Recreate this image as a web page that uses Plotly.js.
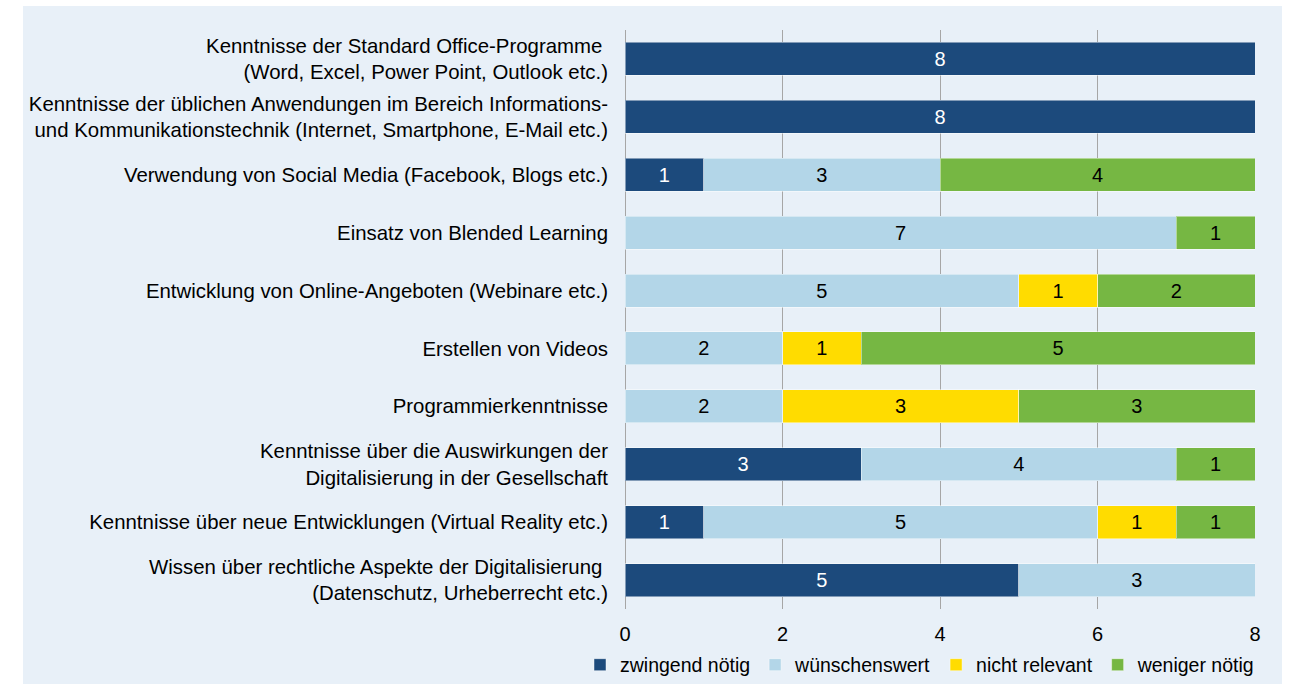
<!DOCTYPE html>
<html>
<head>
<meta charset="utf-8">
<script src="https://cdn.plot.ly/plotly-3.0.1.min.js"></script>
<style>
  body { margin: 0; background: #ffffff; overflow: hidden; }
  #bg { position: absolute; left: 23px; top: 6px; width: 1259px; height: 678px; background: #e8f0f8; }
  #chart { position: absolute; left: 0; top: 0; width: 1295px; height: 700px; }
</style>
</head>
<body>
<div id="bg"></div>
<div id="chart"></div>
<script>
var categories = [
  'Kenntnisse der Standard Office-Programme\u00a0<br>(Word, Excel, Power Point, Outlook etc.)',
  'Kenntnisse der üblichen Anwendungen im Bereich Informations-<br>und Kommunikationstechnik (Internet, Smartphone, E-Mail etc.)',
  'Verwendung von Social Media (Facebook, Blogs etc.)',
  'Einsatz von Blended Learning',
  'Entwicklung von Online-Angeboten (Webinare etc.)',
  'Erstellen von Videos',
  'Programmierkenntnisse',
  'Kenntnisse über die Auswirkungen der<br>Digitalisierung in der Gesellschaft',
  'Kenntnisse über neue Entwicklungen (Virtual Reality etc.)',
  'Wissen über rechtliche Aspekte der Digitalisierung\u00a0<br>(Datenschutz, Urheberrecht etc.)'
];

var zwingend     = [8, 8, 1, 0, 0, 0, 0, 3, 1, 5];
var wuenschens   = [0, 0, 3, 7, 5, 2, 2, 4, 5, 3];
var nichtRelev   = [0, 0, 0, 0, 1, 1, 3, 0, 1, 0];
var weniger      = [0, 0, 4, 1, 2, 5, 3, 1, 1, 0];

var seriesNames  = ['zwingend nötig', 'wünschenswert', 'nicht relevant', 'weniger nötig'];
var seriesColors = ['#1c4a7c', '#b3d6e8', '#ffdc00', '#76b743'];
var textColors   = ['#ffffff', '#000000', '#000000', '#000000'];

var fontFam = 'Arial, "Liberation Sans", sans-serif';
var fs = 19.5;

function mk(vals, i) {
  return {
    type: 'bar',
    orientation: 'h',
    name: seriesNames[i],
    y: categories,
    x: vals.map(function (v) { return v ? v : null; }),
    text: vals.map(function (v) { return v ? String(v) : ''; }),
    textposition: 'inside',
    insidetextanchor: 'middle',
    textfont: { family: fontFam, size: 20, color: textColors[i] },
    marker: { color: seriesColors[i], line: { color: 'rgba(255,255,255,0.45)', width: 1 } },
    hoverinfo: 'x+name'
  };
}

var data = [mk(zwingend, 0), mk(wuenschens, 1), mk(nichtRelev, 2), mk(weniger, 3)];

// plot area 625..1255 x 30..609 (layout is 700 tall, page clips at 684)
var layout = {
  width: 1295,
  height: 700,
  barmode: 'stack',
  bargap: 0.43,
  paper_bgcolor: 'rgba(0,0,0,0)',
  plot_bgcolor: 'rgba(0,0,0,0)',
  margin: { l: 625, r: 40, t: 30, b: 91 },
  font: { family: fontFam, size: fs, color: '#000' },
  xaxis: {
    range: [0, 8],
    dtick: 2,
    showgrid: true,
    gridcolor: '#a6a6a6',
    gridwidth: 1,
    zeroline: true,
    zerolinecolor: '#a6a6a6',
    zerolinewidth: 1,
    showline: false,
    ticks: '',
    ticklabelstandoff: 11,
    tickfont: { family: fontFam, size: 20, color: '#000' },
    fixedrange: true
  },
  yaxis: {
    autorange: 'reversed',
    type: 'category',
    showgrid: false,
    zeroline: false,
    showline: false,
    ticks: '',
    ticklabelstandoff: 16,
    tickfont: { family: fontFam, size: 20.4, color: '#000' },
    fixedrange: true
  },
  showlegend: true,
  legend: {
    orientation: 'h',
    x: (580 - 625) / 630,
    xanchor: 'left',
    y: -56 / 579,
    yanchor: 'middle',
    traceorder: 'normal',
    font: { family: fontFam, size: fs, color: '#000' },
    bgcolor: 'rgba(0,0,0,0)',
    borderwidth: 0,
    itemwidth: 30,
    tracegroupgap: 0
  }
};

Plotly.newPlot('chart', data, layout, { displayModeBar: false, staticPlot: true });
</script>
</body>
</html>
